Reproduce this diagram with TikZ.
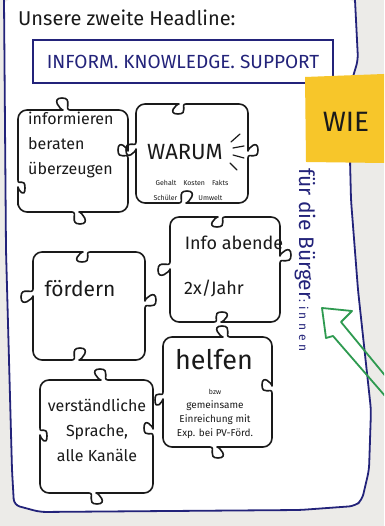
\documentclass[tikz,border=0pt]{standalone}
\usepackage{fontspec}
\setmainfont{Fira Sans}
\usetikzlibrary{positioning}

\definecolor{navy}{HTML}{23237A}
\definecolor{notegelb}{HTML}{F7C62A}
\definecolor{pfeilgruen}{HTML}{2E9A50}
\definecolor{papiergrau}{HTML}{ECEBE8}
\definecolor{tinte}{HTML}{1A1A1A}

% Nase/Loch eines Puzzleteils: Mitte, Kante, halbe Breite, Hoehe
\newcommand{\hbump}[4]{-- ({#1-(#3)},#2) [sharp corners] .. controls ({#1-0.2*(#3)},#2) and ({#1-1.4*(#3)},{#2+(#4)}) .. (#1,{#2+(#4)}) .. controls ({#1+1.4*(#3)},{#2+(#4)}) and ({#1+0.2*(#3)},#2) .. ({#1+(#3)},#2) [rounded corners=9pt]}
\newcommand{\vbump}[4]{-- (#1,{#2+(#3)}) [sharp corners] .. controls (#1,{#2+0.2*(#3)}) and ({#1+(#4)},{#2+1.4*(#3)}) .. ({#1+(#4)},#2) .. controls ({#1+(#4)},{#2-1.4*(#3)}) and (#1,{#2-0.2*(#3)}) .. (#1,{#2-(#3)}) [rounded corners=9pt]}

\begin{document}
\begin{tikzpicture}[x=1pt, y=1pt,
    piece/.style={draw=tinte, line width=1.6pt, rounded corners=9pt, line join=round},
    ink/.style={tinte, line width=1.2pt, line cap=round},
    hand/.style={text=tinte, inner sep=0pt}]
  \useasboundingbox (0,0) rectangle (384,526);
  \clip (0,0) rectangle (384,526);

  % Papier
  \fill[papiergrau] (0,0) rectangle (384,526);
  \begin{scope}[rounded corners=6pt]
    \fill[white] (4,526) -- (6,276) -- (12,56) -- (14,21) -- (40,14) -- (300,16) -- (355,20)
      -- (362,26) -- (369,56) -- (371,116) -- (358,236) -- (351,326) -- (350,366)
      -- (352,446) -- (358,466) -- (355,526) -- cycle;
    \draw[navy, line width=1.8pt] (4,526) -- (6,276) -- (12,56) -- (14,21) -- (40,14) -- (300,16) -- (355,20)
      -- (362,26) -- (369,56) -- (371,116) -- (358,236) -- (351,326) -- (350,366)
      -- (352,446) -- (358,466) -- (355,526);
  \end{scope}

  % Kopf
  \node[hand, anchor=base west, font=\fontsize{20}{20}\selectfont] (headline) at (18,500) {Unsere zweite Headline:};
  \node[draw=navy, line width=1.6pt, text=navy, minimum width=300pt, minimum height=43pt,
    font=\fontsize{19}{19}\selectfont] (leitbox) at (183,464.5) {INFORM. KNOWLEDGE. SUPPORT};

  % Zettel
  \fill[notegelb] (305,449) -- (384,452) -- (384,363) -- (306,364) -- cycle;
  \node[hand, font=\fontsize{28}{28}\selectfont] (wie) at (346,404) {WIE};

  % Puzzleteile
  \draw[piece] (18,390) -- (18,416) \hbump{62}{416}{8}{12} -- (128,416) \vbump{128}{376}{8}{-10}
    -- (128,314) \hbump{80}{314}{-8}{-12} -- (18,314) \vbump{18}{338}{-8}{7} -- cycle;
  \draw[piece] (136,400) -- (136,422) \hbump{178}{422}{8}{-10} -- (248,422) \vbump{248}{376}{8}{10}
    -- (248,323) \hbump{187}{323}{-8}{12} -- (136,323) \vbump{136}{376}{-8}{-10} -- cycle;
  \draw[piece] (170,290) -- (170,309) \hbump{217}{309}{8}{-10} -- (280,309) \vbump{280}{271}{8}{11}
    -- (280,204) \hbump{222}{204}{-8}{10} -- (170,204) \vbump{170}{256}{-8}{-12} -- cycle;
  \draw[piece] (33,255) -- (33,274) \hbump{82}{274}{8}{-10} -- (145,274) \vbump{145}{226}{8}{11}
    -- (145,166) \hbump{80}{166}{-8}{12} -- (33,166) \vbump{33}{229}{-8}{-12} -- cycle;
  \draw[piece] (163,170) -- (163,189) \hbump{222}{189}{8}{11} -- (272,189) \vbump{272}{141}{8}{-10}
    -- (272,79) \hbump{218}{79}{-8}{-11} -- (163,79) \vbump{163}{126}{-8}{-8} -- cycle;
  \draw[piece] (40,125) -- (40,146) \hbump{100}{146}{8}{11} -- (153,146) \vbump{153}{98}{8}{-9}
    -- (153,33) \hbump{97}{33}{-8}{-11} -- (40,33) \vbump{40}{90}{-8}{7} -- cycle;

  % Inhalt
  \node[hand, anchor=west, align=left, font=\fontsize{16}{25}\selectfont] (informieren) at (28,381)
    {informieren\\beraten\\überzeugen};
  \node[hand, font=\fontsize{22}{22}\selectfont] (warum) at (185,374) {WARUM};
  \draw[ink] (231,384) -- (240,392);
  \draw[ink] (233,378) -- (244,380);
  \draw[ink] (233,371) -- (244,368);
  \draw[ink] (230,363) -- (237,356);
  \node[hand, font=\fontsize{7}{7}\selectfont] (warumeins) at (192,343) {Gehalt\quad Kosten\quad Fakts};
  \node[hand, font=\fontsize{7}{7}\selectfont] (warumzwei) at (188,328) {Schüler\qquad\quad Umwelt};

  \node[hand, font=\fontsize{18}{18}\selectfont] (infoabende) at (234,283) {Info abende};
  \node[hand, font=\fontsize{18}{18}\selectfont] (projahr) at (214,238) {2x/Jahr};

  \node[hand, font=\fontsize{21}{21}\selectfont] (foerdern) at (80,237) {fördern};

  \node[hand, font=\fontsize{27}{27}\selectfont] (helfen) at (214,166) {helfen};
  \node[hand, align=center, font=\fontsize{10}{14}\selectfont] (helfenklein) at (215,112)
    {{\fontsize{7}{9}\selectfont bzw}\\gemeinsame\\Einreichung mit\\Exp. bei PV-Förd.};

  \node[hand, align=center, font=\fontsize{16}{25}\selectfont] (sprache) at (97,96)
    {verständliche\\Sprache,\\alle Kanäle};

  % rechts
  \node[hand, text=navy, rotate=-90, anchor=west, font=\fontsize{21}{21}\selectfont] (buerger) at (305,358)
    {für die Bürger{\fontsize{12}{12}\selectfont\addfontfeature{LetterSpace=30}:innen}};
  \draw[pfeilgruen, line width=1.8pt, line join=round] (322,218) -- (352,215) -- (341,204) -- (392,142)
    -- (392,122) -- (333,190) -- (326,188) -- cycle;

\end{tikzpicture}
\end{document}
